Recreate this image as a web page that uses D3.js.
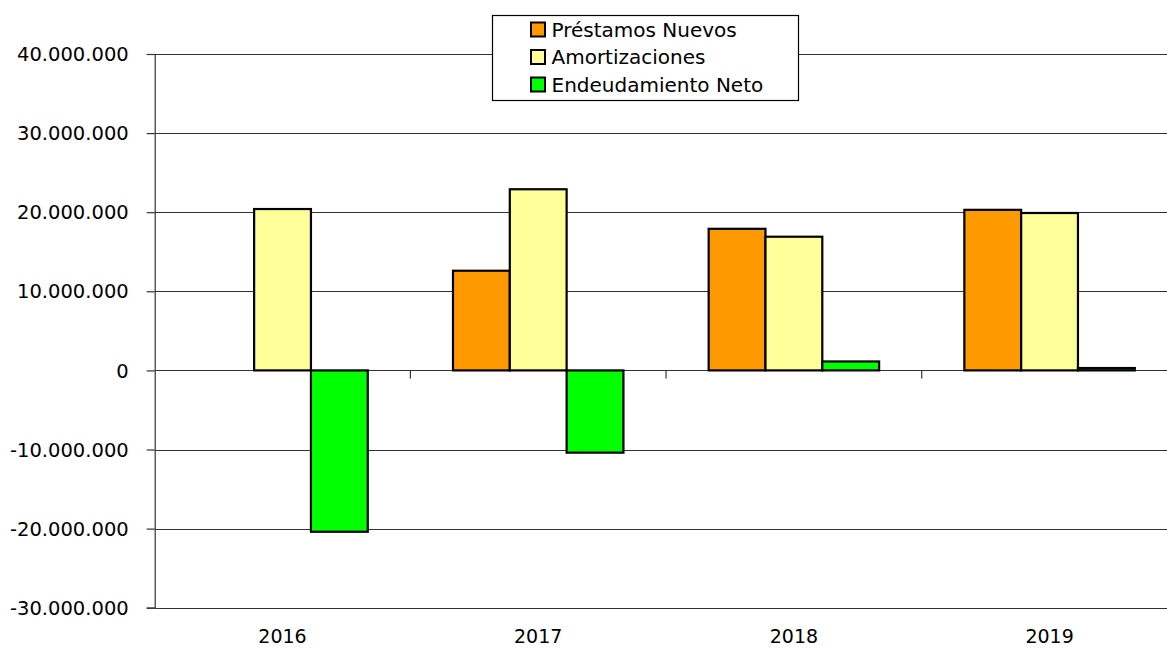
<!DOCTYPE html>
<html><head><meta charset="utf-8">
<script src="https://cdn.jsdelivr.net/npm/d3@7"></script>
<style>html,body{margin:0;padding:0;background:#fff;overflow:hidden}text{font-family:"DejaVu Sans",sans-serif;fill:#000}</style>
</head><body>
<svg id="c" width="1167" height="648"></svg>
<script>
const categories = ["2016","2017","2018","2019"];
const seriesNames = ["Préstamos Nuevos","Amortizaciones","Endeudamiento Neto"];
const prestamos = [0, 12600000, 17900000, 20300000];
const amortizaciones = [20400000, 22900000, 16900000, 19900000];
const endeudamiento = [-20400000, -10400000, 1130000, 300000];
const yTicks = [-30000000,-20000000,-10000000,0,10000000,20000000,30000000,40000000];
const colors = ["#FF9900","#FFFF99","#00FF00"];

(function(){
const values = [prestamos, amortizaciones, endeudamiento];
const svg = d3.select("#c");
const pL = 154.7, pR = 1177.4, pT = 54, pB = 607.7;
const x0 = d3.scaleBand().domain(categories).range([pL,pR]).padding(0);
const x1 = d3.scaleBand().domain(seriesNames).range([0,x0.bandwidth()]).paddingInner(0).paddingOuter(0.75);
const y = d3.scaleLinear().domain([-30000000,40000000]).range([pB,pT]);
const fmt = v => d3.format(",")(v).replace(/,/g,".").replace("\u2212","-");

svg.append("g").selectAll("line").data(yTicks).join("line")
  .attr("x1",pL).attr("x2",1167).attr("y1",d=>Math.round(y(d))+0.5).attr("y2",d=>Math.round(y(d))+0.5)
  .attr("stroke","#333").attr("stroke-width",1.2);

const ya = svg.append("g").attr("transform",`translate(${pL},0)`)
  .call(d3.axisLeft(y).tickValues(yTicks).tickSize(8).tickPadding(18).tickFormat(fmt));
ya.select(".domain").attr("stroke","#333").attr("stroke-width",1.2);
ya.selectAll(".tick line").attr("stroke","#333").attr("stroke-width",1.2);
ya.selectAll("text").style("font-size","19.5px").attr("fill","#000").attr("dy","0.34em");

const bounds = categories.map(c=>x0(c)).concat([pR]);
svg.append("g").selectAll("line").data(bounds.slice(1,4)).join("line")
  .attr("x1",d=>d).attr("x2",d=>d).attr("y1",y(0)).attr("y2",y(0)+8)
  .attr("stroke","#333").attr("stroke-width",1.2);
svg.append("g").selectAll("text").data(categories).join("text")
  .attr("x",d=>x0(d)+x0.bandwidth()/2).attr("y",643).attr("text-anchor","middle")
  .style("font-size","19px").text(d=>d);

const g = svg.append("g");
categories.forEach((c,i)=>{
  seriesNames.forEach((s,j)=>{
    const v = values[j][i];
    if (v === 0) return;
    g.append("rect")
      .attr("x",x0(c)+x1(s)).attr("width",x1.bandwidth())
      .attr("y",y(Math.max(0,v))).attr("height",Math.abs(y(v)-y(0)))
      .attr("fill",colors[j]).attr("stroke","#000").attr("stroke-width",2.2);
  });
});

const lg = svg.append("g");
lg.append("rect").attr("x",492.5).attr("y",15.5).attr("width",306).attr("height",85)
  .attr("fill","#fff").attr("stroke","#000").attr("stroke-width",1.2);
seriesNames.forEach((s,j)=>{
  const cy = 29.5 + j*27.5;
  lg.append("rect").attr("x",531).attr("y",cy-7).attr("width",14).attr("height",14)
    .attr("fill",colors[j]).attr("stroke","#000").attr("stroke-width",2);
  lg.append("text").attr("x",551.5).attr("y",cy).attr("dy","0.36em")
    .style("font-size","20px").text(s);
});
})();
</script>
</body></html>
